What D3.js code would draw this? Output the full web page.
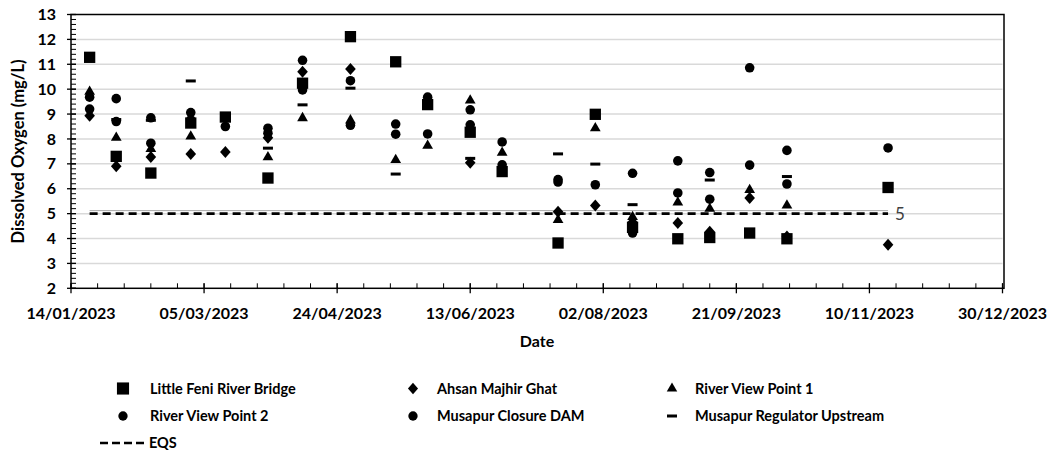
<!DOCTYPE html>
<html><head><meta charset="utf-8">
<script src="https://cdn.jsdelivr.net/npm/d3@7"></script>
<style>body{margin:0;background:#fff} svg{display:block;font-family:Lato,"Open Sans",sans-serif}</style>
</head><body>
<svg id="chart" width="1053" height="454"></svg>
<script>
// ---- data ----
const sampleDates = ["2023-01-21","2023-01-31","2023-02-13","2023-02-28","2023-03-13","2023-03-29","2023-04-11","2023-04-29","2023-05-16","2023-05-28","2023-06-13","2023-06-25","2023-07-16","2023-07-30","2023-08-13","2023-08-30","2023-09-11","2023-09-26","2023-10-10","2023-11-17"];
const littleFeniRiverBridge = [11.28,7.30,6.63,8.64,8.88,6.43,10.24,12.11,11.10,9.38,8.27,6.69,3.82,8.99,4.45,3.99,4.04,4.22,3.99,6.05];
const ahsanMajhirGhat       = [8.93,6.90,7.27,7.40,7.48,8.05,10.70,10.81,null,null,7.04,null,5.08,5.33,4.65,4.62,4.27,5.63,4.08,3.75];
const riverViewPoint1       = [9.90,8.05,7.60,8.10,null,7.27,8.84,8.75,7.16,7.73,9.55,7.45,4.75,8.43,4.87,5.45,5.20,5.95,5.33,null];
const riverViewPoint2       = [9.68,9.62,8.85,9.06,8.50,8.43,11.16,10.34,8.60,9.68,9.17,7.88,6.37,6.16,6.62,7.12,6.65,10.86,7.54,7.64];
const musapurClosureDam     = [9.20,8.70,7.83,8.77,null,8.23,9.97,8.55,8.19,8.20,8.57,6.96,6.27,null,4.22,5.83,5.58,6.95,6.19,null];
const musapurRegulatorUp    = [null,8.78,8.75,10.33,null,7.63,9.37,10.04,6.59,null,7.22,null,7.40,6.99,5.36,null,6.35,null,6.49,null];
const eqsValue = 5;
const seriesNames = ["Little Feni River Bridge","Ahsan Majhir Ghat","River View Point 1","River View Point 2","Musapur Closure DAM","Musapur Regulator Upstream"];
const seriesValues = [littleFeniRiverBridge,ahsanMajhirGhat,riverViewPoint1,riverViewPoint2,musapurClosureDam,musapurRegulatorUp];
const seriesShapes = ["square","diamond","triangle","circle","circle","dash"];
const xDomain = ["2023-01-14","2023-12-30"];
const yDomain = [2,13];
const yTicks = [2,3,4,5,6,7,8,9,10,11,12,13];
const xTitle = "Date", yTitle = "Dissolved Oxygen (mg/L)", eqsName = "EQS";

// ---- layout ----
const parse = d3.timeParse("%Y-%m-%d");
const fmt = d3.timeFormat("%d/%m/%Y");
const svg = d3.select("#chart");
const x = d3.scaleTime().domain(xDomain.map(parse)).range([71, 1002.5]);
const y = d3.scaleLinear().domain(yDomain).range([288.3, 14.5]);
const X0 = x.range()[0], X1 = x.range()[1], Y0 = y.range()[0], Y1 = y.range()[1];

// gridlines
svg.append("g").selectAll("line").data(yTicks.filter(v => v > 2 && v < 13)).join("line")
  .attr("x1", X0).attr("x2", X1).attr("y1", d => y(d)).attr("y2", d => y(d))
  .attr("stroke", "#d9d9d9").attr("stroke-width", 1.5);

// minor ticks y
const yMinor = d3.range(2, 13.001, 0.2);
svg.append("g").selectAll("line").data(yMinor).join("line")
  .attr("x1", X0).attr("x2", X0 + 5).attr("y1", d => y(d)).attr("y2", d => y(d))
  .attr("stroke", "#000").attr("stroke-width", 1);
// major ticks y
svg.append("g").selectAll("line").data(yTicks).join("line")
  .attr("x1", X0 - 4).attr("x2", X0 + 5).attr("y1", d => y(d)).attr("y2", d => y(d))
  .attr("stroke", "#000").attr("stroke-width", 1.3);
svg.append("g").selectAll("text").data(yTicks).join("text")
  .attr("x", 56).attr("y", d => y(d)).attr("dy", "0.35em").attr("text-anchor", "end")
  .attr("font-size", 16).attr("font-weight", 700).attr("fill", "#000").text(d => d);

// x ticks
const xMajor = d3.timeDay.range(parse(xDomain[0]), d3.timeDay.offset(parse(xDomain[1]), 1), 50);
const xMinor = d3.timeDay.range(parse(xDomain[0]), d3.timeDay.offset(parse(xDomain[1]), 1), 10);
svg.append("g").selectAll("line").data(xMinor).join("line")
  .attr("x1", d => x(d)).attr("x2", d => x(d)).attr("y1", Y0 - 5).attr("y2", Y0)
  .attr("stroke", "#000").attr("stroke-width", 1);
svg.append("g").selectAll("line").data(xMajor).join("line")
  .attr("x1", d => x(d)).attr("x2", d => x(d)).attr("y1", Y0 - 5).attr("y2", Y0 + 5)
  .attr("stroke", "#000").attr("stroke-width", 1.3);
svg.append("g").selectAll("text").data(xMajor).join("text")
  .attr("x", d => x(d)).attr("y", 313.5).attr("dy", "0.35em").attr("text-anchor", "middle")
  .attr("font-size", 16).attr("font-weight", 700).attr("fill", "#000").text(d => fmt(d));

// plot box
svg.append("rect").attr("x", X0).attr("y", Y1).attr("width", X1 - X0 + 1.5).attr("height", Y0 - Y1)
  .attr("fill", "none").attr("stroke", "#000").attr("stroke-width", 1.5);

// titles
svg.append("text").attr("x", 537).attr("y", 341).attr("dy", "0.35em").attr("text-anchor", "middle")
  .attr("font-size", 16).attr("font-weight", 700).text(xTitle);
svg.append("text").attr("transform", `translate(18,${(Y0 + Y1) / 2}) rotate(-90)`).attr("dy", "0.35em")
  .attr("text-anchor", "middle").attr("font-size", 16.5).attr("font-weight", 700).text(yTitle);

// EQS line
const eqsDates = [sampleDates[0], sampleDates[sampleDates.length - 1]].map(parse);
svg.append("line").attr("x1", x(eqsDates[0])).attr("x2", x(eqsDates[1]))
  .attr("y1", y(eqsValue) - 3).attr("y2", y(eqsValue) - 3).attr("stroke", "#a6a6a6").attr("stroke-width", 1);
svg.append("line").attr("x1", x(eqsDates[0])).attr("x2", x(eqsDates[1]))
  .attr("y1", y(eqsValue)).attr("y2", y(eqsValue)).attr("stroke", "#000").attr("stroke-width", 2.6)
  .attr("stroke-dasharray", "8,5");
svg.append("text").attr("x", x(eqsDates[1]) + 7).attr("y", y(eqsValue)).attr("dy", "0.35em")
  .attr("font-size", 17).attr("fill", "#404040").text(eqsValue);

// markers
function symbolPath(shape, scale) {
  const s = scale || 1;
  if (shape === "square") return d3.symbol(d3.symbolSquare, 128 * s)();
  if (shape === "diamond") { const w = 5.3 * s, h = 6 * s; return `M0,${-h}L${w},0L0,${h}L${-w},0Z`; }
  if (shape === "triangle") return d3.symbol(d3.symbolTriangle, 50 * s)();
  if (shape === "circle") return d3.symbol(d3.symbolCircle, 72 * s)();
  return null;
}
seriesValues.forEach((vals, i) => {
  const shape = seriesShapes[i];
  const pts = vals.map((v, j) => ({d: parse(sampleDates[j]), v})).filter(p => p.v != null);
  const g = svg.append("g");
  if (shape === "dash") {
    g.selectAll("rect").data(pts).join("rect")
      .attr("x", p => x(p.d) - 5).attr("y", p => y(p.v) - 1.5).attr("width", 10).attr("height", 3).attr("fill", "#000");
  } else {
    g.selectAll("path").data(pts).join("path")
      .attr("transform", p => `translate(${x(p.d)},${y(p.v)})`).attr("d", symbolPath(shape)).attr("fill", "#000");
  }
});

// legend
const legX = [123, 413, 672], legTextX = [150, 437, 695], legY = [388.5, 416];
seriesNames.forEach((name, i) => {
  const cx = legX[i % 3], cy = legY[Math.floor(i / 3)], shape = seriesShapes[i];
  if (shape === "dash") svg.append("rect").attr("x", cx - 5).attr("y", cy - 1.5).attr("width", 10).attr("height", 3);
  else svg.append("path").attr("transform", `translate(${cx},${cy})`).attr("d", symbolPath(shape, shape === "square" ? 1.15 : 0.95));
  svg.append("text").attr("x", legTextX[i % 3]).attr("y", cy).attr("dy", "0.35em")
    .attr("font-size", 14.5).attr("font-weight", 700).text(name);
});
svg.append("line").attr("x1", 100).attr("x2", 146).attr("y1", 443).attr("y2", 443)
  .attr("stroke", "#000").attr("stroke-width", 2.6).attr("stroke-dasharray", "8,4");
svg.append("text").attr("x", 149).attr("y", 443).attr("dy", "0.35em")
  .attr("font-size", 14.5).attr("font-weight", 700).text(eqsName);
</script>
</body></html>
